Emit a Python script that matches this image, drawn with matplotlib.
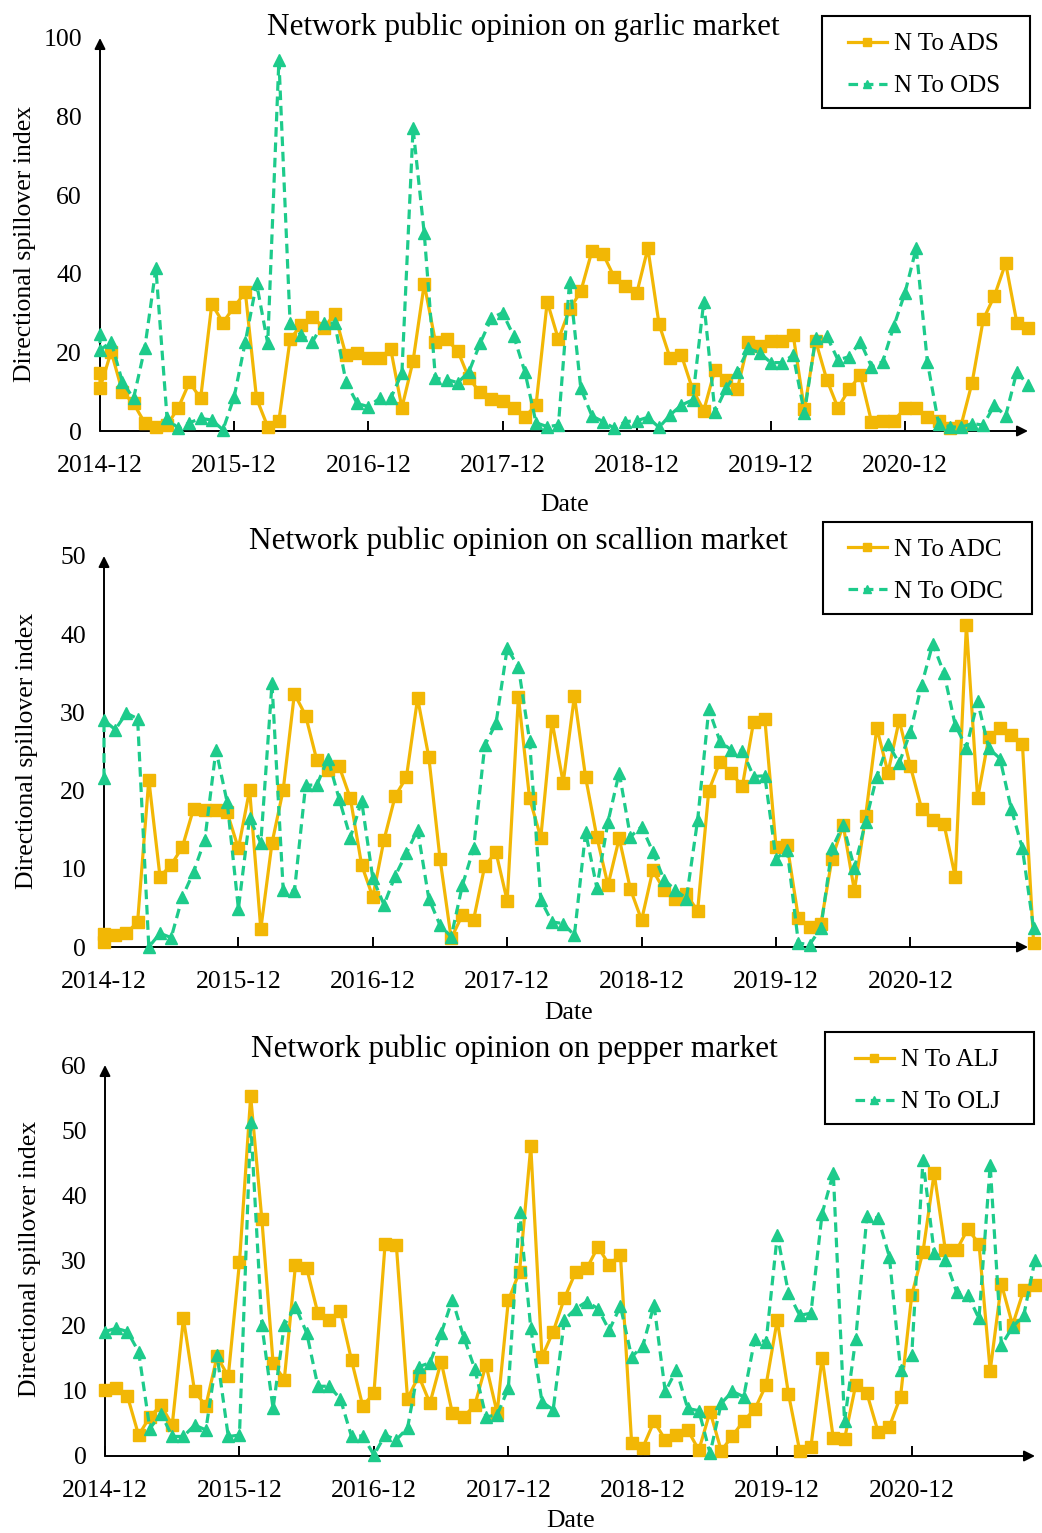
import matplotlib
matplotlib.use('Agg')
import matplotlib.pyplot as plt
from matplotlib.patches import Rectangle

W, H, DPI = 1042, 1533, 100
plt.rcParams['font.family'] = ['Liberation Serif', 'DejaVu Serif']

ORANGE = '#F2B705'
GREEN = '#1DCB8B'

tick_labels = ['2014-12', '2015-12', '2016-12', '2017-12', '2018-12', '2019-12', '2020-12']
tick_months = [0, 12, 24, 36, 48, 60, 72]

# month offsets from 2014-12 (garlic and scallion series repeat the first month)
months_dup = [0] + list(range(0, 84))
months = list(range(0, 84))

garlic_ads = [14.7, 10.9, 20.2, 10.0, 7.0, 2.1, 0.9, 1.5, 5.9, 12.4, 8.3,
              32.3, 27.6, 31.6, 35.3, 8.3, 1.1, 2.6, 23.3, 27.0, 29.1,
              26.3, 29.7, 19.3, 19.9, 18.7, 18.5, 20.9, 5.9, 17.8, 37.4,
              22.7, 23.3, 20.4, 13.4, 9.8, 8.1, 7.7, 5.9, 3.6, 6.6,
              32.9, 23.3, 31.0, 35.5, 45.8, 45.0, 39.1, 36.9, 35.0, 46.5,
              27.2, 18.5, 19.3, 10.6, 5.2, 15.6, 13.1, 10.6, 22.7, 21.6,
              23.0, 23.0, 24.4, 5.5, 23.0, 13.1, 5.9, 10.6, 14.2, 2.4,
              2.6, 2.6, 5.8, 5.9, 3.6, 2.6, 0.7, 1.3, 12.3, 28.4,
              34.4, 42.7, 27.6, 26.3]
garlic_ods = [24.8, 20.6, 22.7, 12.5, 8.3, 21.0, 41.4, 3.2, 0.7, 2.1, 3.2,
              2.8, 0.3, 8.7, 22.7, 37.6, 22.3, 94.4, 27.6, 24.4, 22.7,
              27.6, 27.4, 12.5, 7.0, 6.2, 8.3, 8.3, 14.7, 77.0, 50.3,
              13.4, 13.1, 12.3, 15.1, 22.3, 28.7, 30.1, 24.2, 15.1, 2.1,
              1.1, 1.5, 38.0, 10.9, 3.8, 2.4, 0.7, 2.4, 2.6, 3.5,
              0.9, 4.1, 6.6, 7.9, 32.9, 4.8, 10.9, 15.1, 21.0, 19.9,
              17.4, 17.4, 19.3, 4.5, 23.6, 24.2, 18.1, 18.9, 22.7, 16.4,
              17.6, 26.7, 35.2, 46.5, 17.6, 1.9, 1.1, 0.9, 1.9, 1.5,
              6.6, 3.8, 15.1, 11.7]

scallion_adc = [0.6, 1.6, 1.5, 1.75, 3.2, 21.4, 9.0, 10.5, 12.8, 17.7, 17.5,
                17.5, 17.2, 12.6, 20.1, 2.3, 13.3, 20.1, 32.4, 29.6, 23.9,
                22.6, 23.1, 19.0, 10.5, 6.4, 13.7, 19.3, 21.7, 31.8, 24.3,
                11.3, 1.1, 4.1, 3.5, 10.4, 12.1, 5.9, 32.0, 19.0, 14.0,
                28.9, 21.0, 32.1, 21.7, 14.1, 7.9, 13.9, 7.4, 3.45, 9.8,
                7.3, 6.2, 6.8, 4.6, 20.0, 23.7, 22.2, 20.6, 28.8, 29.2,
                12.8, 13.0, 3.7, 2.6, 2.9, 11.3, 15.6, 7.2, 16.7, 28.0,
                22.3, 29.0, 23.1, 17.7, 16.3, 15.7, 9.0, 41.2, 19.0, 26.8,
                28.0, 27.1, 26.0, 0.5]
scallion_odc = [21.6, 29.0, 27.8, 29.9, 29.2, 0.0, 1.75, 1.2, 6.4, 9.6, 13.7,
                25.2, 18.5, 4.9, 16.5, 13.3, 33.7, 7.3, 7.1, 20.7, 20.7,
                24.1, 18.9, 14.0, 18.7, 8.8, 5.4, 9.1, 12.0, 15.0, 6.2,
                2.8, 1.3, 7.9, 12.6, 25.8, 28.6, 38.2, 35.8, 26.4, 6.0,
                3.2, 3.0, 1.5, 14.7, 7.6, 16.0, 22.3, 14.1, 15.4, 12.2,
                8.6, 7.3, 6.2, 16.2, 30.4, 26.3, 25.2, 25.1, 21.8, 21.9,
                11.3, 12.4, 0.5, 0.3, 2.4, 12.6, 15.6, 10.1, 16.0, 21.8,
                26.0, 23.5, 27.5, 33.5, 38.8, 35.0, 28.4, 25.5, 31.4, 25.4,
                24.1, 17.7, 12.6, 2.4]

pepper_alj = [10.2, 10.4, 9.2, 3.2, 6.0, 7.8, 4.75, 21.1, 9.9, 7.7,
              15.3, 12.2, 29.7, 55.2, 36.3, 14.3, 11.7, 29.3, 28.8, 21.9,
              20.9, 22.3, 14.7, 7.7, 9.6, 32.6, 32.4, 8.8, 12.3, 8.1,
              14.5, 6.6, 6.0, 7.8, 14.0, 6.6, 23.9, 28.3, 47.5, 15.2,
              19.1, 24.2, 28.2, 28.8, 32.1, 29.3, 30.9, 2.0, 1.3, 5.3,
              2.5, 3.2, 4.0, 0.9, 6.8, 0.8, 3.1, 5.4, 7.2, 10.9,
              20.9, 9.5, 0.8, 1.4, 15.1, 2.7, 2.6, 10.9, 9.6, 3.7,
              4.5, 9.1, 24.7, 31.3, 43.4, 31.6, 31.6, 34.8, 32.6, 13.1,
              26.4, 20.1, 25.5, 26.2]
pepper_olj = [19.1, 19.6, 19.1, 16.0, 4.2, 6.5, 3.0, 3.0, 4.75, 4.0,
              15.5, 3.0, 3.2, 51.3, 20.1, 7.3, 20.1, 22.9, 18.9, 10.7,
              10.7, 8.8, 3.0, 3.1, 0.15, 3.2, 2.5, 4.3, 13.7, 14.3,
              18.8, 24.0, 18.3, 13.4, 6.0, 6.3, 10.4, 37.5, 19.6, 8.3,
              7.1, 20.9, 22.6, 23.7, 22.6, 19.3, 23.0, 15.2, 16.9, 23.2,
              9.9, 13.2, 7.3, 6.95, 0.4, 8.1, 9.9, 9.1, 18.0, 17.5,
              33.9, 25.0, 21.6, 21.9, 37.2, 43.4, 5.3, 18.0, 36.8, 36.5,
              30.6, 13.2, 15.5, 45.4, 31.2, 30.1, 25.2, 24.7, 21.1, 44.6,
              17.0, 19.8, 21.6, 30.1]

panels = [
    dict(title='Network public opinion on garlic market', x=months_dup,
         a=garlic_ads, o=garlic_ods, la='N To ADS', lo='N To ODS',
         yticks=[0, 20, 40, 60, 80, 100],
         box=(100, 431, 1028, 38), xmax=83, ymax=100,
         title_xy=(523, 27), date_xy=(565, 505), ylab_xy=(25, 244),
         leg=(822, 16, 1030, 108)),
    dict(title='Network public opinion on scallion market', x=months_dup,
         a=scallion_adc, o=scallion_odc, la='N To ADC', lo='N To ODC',
         yticks=[0, 10, 20, 30, 40, 50],
         box=(104, 947, 1028, 556), xmax=82.5, ymax=50,
         title_xy=(518, 541), date_xy=(569, 1013), ylab_xy=(27, 751),
         leg=(823, 522, 1032, 614)),
    dict(title='Network public opinion on pepper market', x=months,
         a=pepper_alj, o=pepper_olj, la='N To ALJ', lo='N To OLJ',
         yticks=[0, 10, 20, 30, 40, 50, 60],
         box=(105, 1456, 1035, 1065), xmax=83.0, ymax=60,
         title_xy=(514, 1049), date_xy=(571, 1521), ylab_xy=(30, 1259),
         leg=(825, 1032, 1034, 1124)),
]

fig = plt.figure(figsize=(W / DPI, H / DPI), dpi=DPI)


def fx(px):
    return px / W


def fy(py):
    return 1 - py / H


for p in panels:
    x0, y0, x1, y1 = p['box']
    ax = fig.add_axes([fx(x0), fy(y0), (x1 - x0) / W, (y0 - y1) / H])
    ax.set_xlim(0, p['xmax'])
    ax.set_ylim(0, p['ymax'])
    for s in ax.spines.values():
        s.set_visible(False)
    ax.annotate('', xy=(1.0, 0), xytext=(0, 0), xycoords='axes fraction',
                arrowprops=dict(arrowstyle='-|>', color='black', lw=1.4,
                                mutation_scale=16, shrinkA=0, shrinkB=0))
    ax.annotate('', xy=(0, 1.0), xytext=(0, 0), xycoords='axes fraction',
                arrowprops=dict(arrowstyle='-|>', color='black', lw=1.4,
                                mutation_scale=16, shrinkA=0, shrinkB=0))
    ax.set_xticks(tick_months)
    ax.set_xticklabels(tick_labels)
    ax.set_yticks(p['yticks'])
    ax.tick_params(axis='x', direction='in', length=7, width=1.4, pad=17,
                   labelsize=18.5, colors='black')
    ax.tick_params(axis='y', length=0, pad=13, labelsize=18.5)

    la, = ax.plot(p['x'], p['a'], color=ORANGE, lw=2.3, marker='s', ms=8.5,
                  clip_on=False, label=p['la'], zorder=3)
    lo, = ax.plot(p['x'], p['o'], color=GREEN, lw=2.3, ls=(0, (3, 1.8)),
                  marker='^', ms=8.5, clip_on=False, label=p['lo'], zorder=4)

    fig.text(fx(p['title_xy'][0]), fy(p['title_xy'][1]), p['title'],
             ha='center', va='center', fontsize=22.5)
    fig.text(fx(p['date_xy'][0]), fy(p['date_xy'][1]), 'Date',
             ha='center', va='center', fontsize=18.5)
    fig.text(fx(p['ylab_xy'][0]), fy(p['ylab_xy'][1]),
             'Directional spillover index', ha='center', va='center',
             rotation=90, fontsize=18.5)

    lx0, ly0, lx1, ly1 = p['leg']
    fig.add_artist(Rectangle((fx(lx0), fy(ly1)), (lx1 - lx0) / W,
                             (ly1 - ly0) / H, transform=fig.transFigure,
                             fill=True, fc='white', ec='black', lw=1.5,
                             zorder=5))
    leg = fig.legend(handles=[la, lo], loc='center',
                     bbox_to_anchor=(fx((lx0 + lx1) / 2 - 2), fy((ly0 + ly1) / 2 + 3)),
                     frameon=False, fontsize=18, handlelength=1.55,
                     handletextpad=0.3, labelspacing=0.78, numpoints=1,
                     markerscale=0.75, borderpad=0)
    leg.set_zorder(6)

fig.savefig('out.png', dpi=DPI)
